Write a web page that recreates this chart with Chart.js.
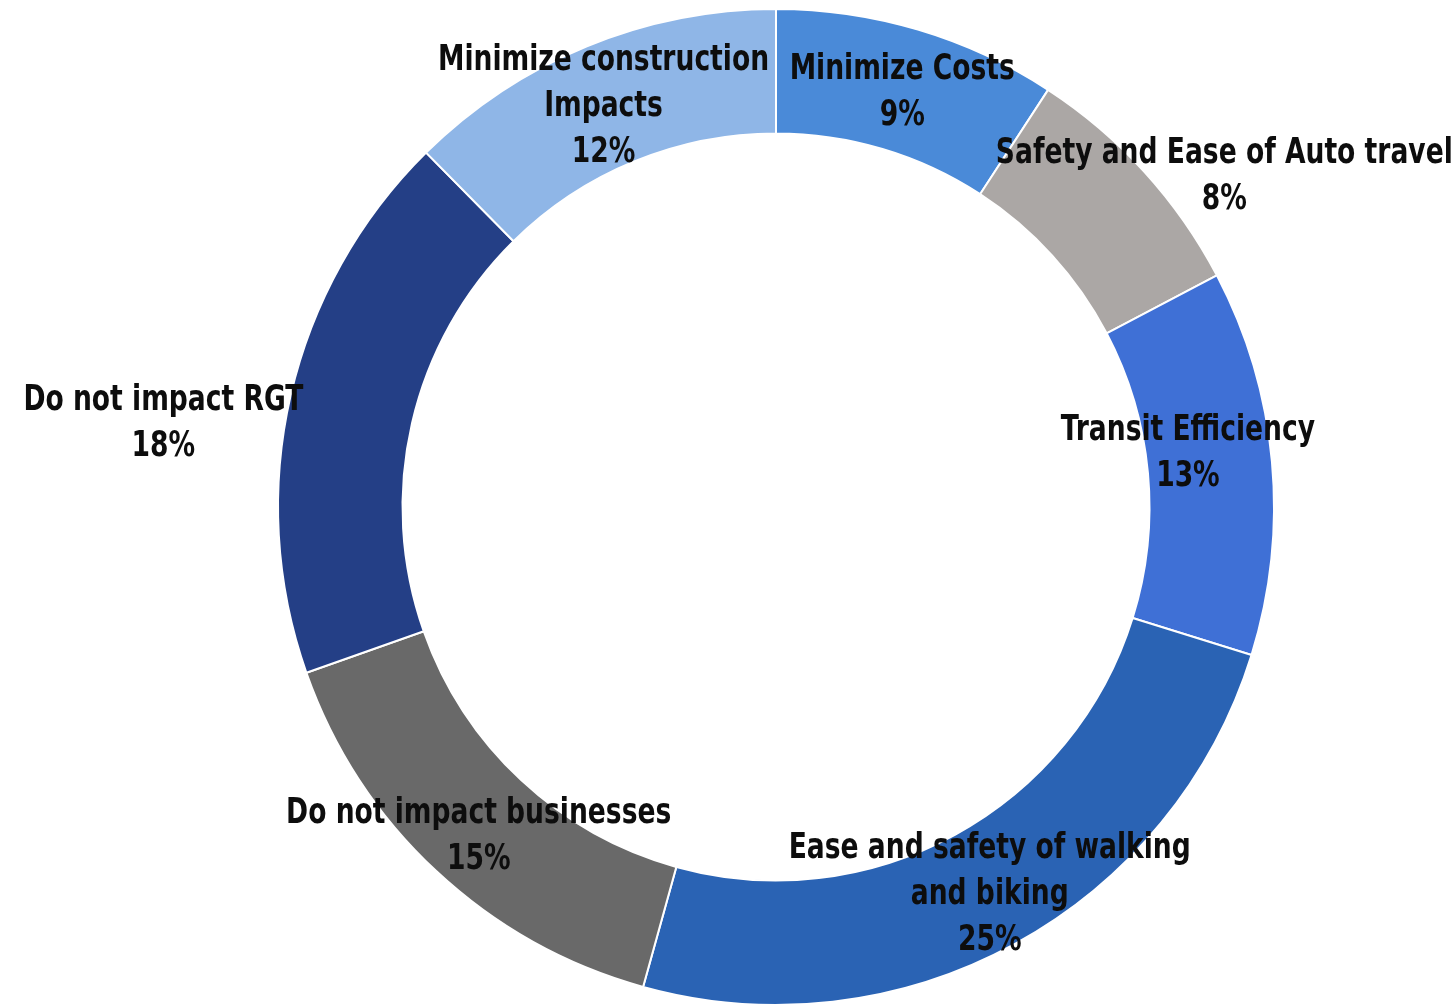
<!DOCTYPE html>
<html>
<head>
<meta charset="utf-8">
<script src="https://cdn.jsdelivr.net/npm/chart.js@4.4.1/dist/chart.umd.min.js"></script>
<style>
  html, body { margin: 0; padding: 0; background: #fff; }
  #wrap { width: 1455px; height: 1008px; }
</style>
</head>
<body>
<div id="wrap"><canvas id="ring" width="1455" height="1008"></canvas></div>
<script>
// categories (clockwise from 12 o'clock)
const categories = [
  'Minimize Costs',
  'Safety and Ease of Auto travel',
  'Transit Efficiency',
  ['Ease and safety of walking', 'and biking'],
  'Do not impact businesses',
  'Do not impact RGT',
  ['Minimize construction', 'Impacts']
];
// shares (labels show them rounded)
const shares = [9.2, 8.1, 12.5, 24.5, 15.3, 18.0, 12.4];
const sliceColors = ['#4a8ad8', '#aba7a5', '#3f70d6', '#2a63b4', '#696969', '#243f86', '#8fb6e7'];

// nudges for the data labels relative to the middle of each ring segment
const labelNudge = [[2, 3], [126, -37], [-22, -14], [5, 5], [0, 11], [-188, 14], [-7, 3]];

const ringLabels = {
  id: 'ringLabels',
  afterDatasetsDraw(chart, args, opts) {
    const ctx = chart.ctx;
    const meta = chart.getDatasetMeta(0);
    const data = chart.data.datasets[0].data;
    const total = data.reduce((a, b) => a + b, 0);
    meta.data.forEach((arc, i) => {
      const p = arc.getProps(['x', 'y', 'startAngle', 'endAngle', 'innerRadius', 'outerRadius'], true);
      const a = (p.startAngle + p.endAngle) / 2;
      const r = (p.innerRadius + p.outerRadius) / 2;
      const nudge = opts.nudge[i] || [0, 0];
      const cx = p.x + Math.cos(a) * r + nudge[0];
      const cy = p.y + Math.sin(a) * r + nudge[1];
      let lines = chart.data.labels[i];
      lines = Array.isArray(lines) ? lines.slice() : [lines];
      lines.push(Math.round(data[i] / total * 100) + '%');
      const top = cy - (lines.length - 1) * opts.lineHeight / 2;
      ctx.save();
      ctx.translate(cx, 0);
      ctx.scale(opts.squeeze, 1);
      ctx.font = opts.font;
      ctx.fillStyle = opts.color;
      ctx.textAlign = 'center';
      ctx.textBaseline = 'middle';
      lines.forEach((t, k) => ctx.fillText(t, 0, top + k * opts.lineHeight));
      ctx.restore();
    });
  }
};

new Chart(document.getElementById('ring'), {
  type: 'doughnut',
  data: {
    labels: categories,
    datasets: [{
      data: shares,
      backgroundColor: sliceColors,
      borderColor: '#ffffff',
      borderWidth: 2
    }]
  },
  options: {
    responsive: false,
    animation: false,
    cutout: '75%',
    layout: { padding: { left: 97, right: 0, top: 8, bottom: 2 } },
    plugins: {
      legend: { display: false },
      tooltip: { enabled: false },
      ringLabels: {
        font: 'bold 36px "DejaVu Sans Condensed", "DejaVu Sans", sans-serif',
        squeeze: 0.82,
        color: '#0d0d0d',
        lineHeight: 46,
        nudge: labelNudge
      }
    }
  },
  plugins: [ringLabels]
});
</script>
</body>
</html>
